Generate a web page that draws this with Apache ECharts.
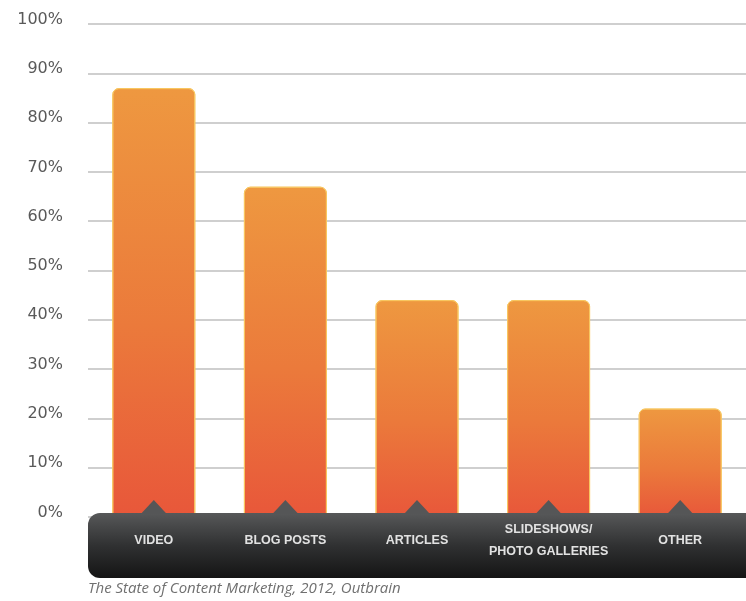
<!DOCTYPE html>
<html>
<head>
<meta charset="utf-8">
<script src="https://cdn.jsdelivr.net/npm/echarts@6/dist/echarts.min.js"></script>
<style>
  html, body { margin: 0; padding: 0; background: #ffffff; }
  #chart { width: 746px; height: 601px; }
</style>
</head>
<body>
<div id="chart"></div>
<script>
// Share of marketers using each content format
const categories = ['VIDEO', 'BLOG POSTS', 'ARTICLES', 'SLIDESHOWS/\nPHOTO GALLERIES', 'OTHER'];
const shares = [87, 67, 44, 44, 22];
const yTicks = [0, 10, 20, 30, 40, 50, 60, 70, 80, 90, 100];
const sourceNote = 'The State of Content Marketing, 2012, Outbrain';

const chart = echarts.init(document.getElementById('chart'), null, { renderer: 'canvas' });

const option = {
  animation: false,
  backgroundColor: '#ffffff',
  grid: { left: 88, right: -4, top: 24, bottom: 84, containLabel: false },
  xAxis: {
    type: 'category',
    data: categories,
    axisLine: { show: false },
    axisTick: { show: false },
    axisLabel: {
      color: '#e2e2e2',
      fontFamily: 'Liberation Sans, Arial, sans-serif',
      fontWeight: 'bold',
      fontSize: 12.5,
      lineHeight: 22,
      margin: 24,
      verticalAlign: 'middle',
      interval: 0
    },
    z: 50
  },
  yAxis: {
    type: 'value',
    min: yTicks[0],
    max: yTicks[yTicks.length - 1],
    interval: yTicks[1] - yTicks[0],
    axisLine: { show: false },
    axisTick: { show: false },
    axisLabel: {
      formatter: '{value}%',
      color: '#595959',
      fontFamily: 'DejaVu Sans, sans-serif',
      fontSize: 16,
      margin: 25,
      verticalAlign: 'bottom',
      lineHeight: 9
    },
    splitLine: { lineStyle: { color: '#cfcfcf', width: 2 } }
  },
  series: [{
    type: 'bar',
    data: shares,
    barWidth: 83,
    itemStyle: {
      color: new echarts.graphic.LinearGradient(0, 0, 0, 1, [
        { offset: 0, color: '#ee9840' },
        { offset: 0.55, color: '#eb7a3b' },
        { offset: 1, color: '#e8573a' }
      ]),
      borderColor: '#f8c660',
      borderWidth: 1,
      borderRadius: [6, 6, 0, 0]
    }
  }]
};

chart.setOption(option);

// Dark category band with a pointer under each bar, placed from the axis scales
function drawBand() {
  const zeroY = chart.convertToPixel({ yAxisIndex: 0 }, 0);
  const step = chart.convertToPixel({ xAxisIndex: 0 }, 1) - chart.convertToPixel({ xAxisIndex: 0 }, 0);
  const leftX = chart.convertToPixel({ xAxisIndex: 0 }, 0) - step / 2;
  const bandTop = zeroY - 4;
  const bandH = 65;
  const elements = [{
    type: 'rect',
    z: 40,
    shape: { x: leftX, y: bandTop, width: 746 - leftX + 20, height: bandH, r: 12 },
    style: {
      fill: new echarts.graphic.LinearGradient(0, 0, 0, 1, [
        { offset: 0, color: '#575859' },
        { offset: 0.5, color: '#303132' },
        { offset: 1, color: '#141414' }
      ])
    }
  }];
  categories.forEach(function (c, i) {
    const cx = chart.convertToPixel({ xAxisIndex: 0 }, i);
    elements.push({
      type: 'polygon',
      z: 41,
      shape: { points: [[cx - 13, bandTop + 1], [cx, bandTop - 13], [cx + 13, bandTop + 1]] },
      style: { fill: '#555657' }
    });
  });
  elements.push({
    type: 'text',
    z: 41,
    left: leftX,
    top: bandTop + bandH + 3,
    style: {
      text: sourceNote,
      fill: '#707070',
      font: 'italic 15px "Open Sans", sans-serif'
    }
  });
  chart.setOption({ graphic: { elements: elements } });
}
drawBand();
</script>
</body>
</html>
